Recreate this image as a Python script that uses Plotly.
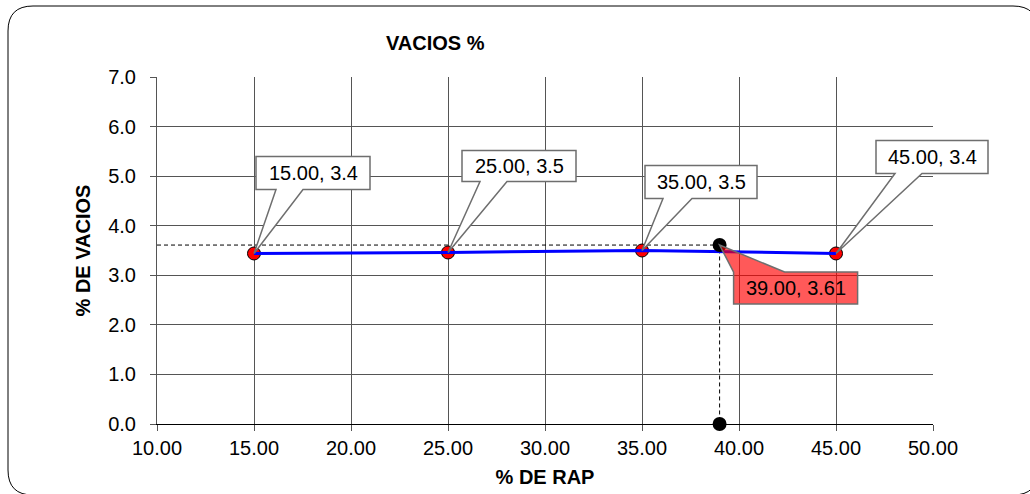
import plotly.graph_objects as go

# Air voids (%) vs. RAP content (%)
rap = [15.0, 25.0, 35.0, 45.0]
vacios = [3.44, 3.46, 3.50, 3.44]

# Design point
opt_rap = 39.0
opt_vacios = 3.61

x_ticks = [10, 15, 20, 25, 30, 35, 40, 45, 50]
y_ticks = [0, 1, 2, 3, 4, 5, 6, 7]

FONT = "Liberation Sans, Arial, sans-serif"
GRID = "#555555"

# Margins in pixels (plot area geometry)
ML, MR, MT, MB = 157, 97, 77, 70
W, H = 1030, 494

X_RANGE = [x_ticks[0], x_ticks[-1]]
Y_RANGE = [y_ticks[0], y_ticks[-1]]


def to_paper_x(v):
    return (v - X_RANGE[0]) / (X_RANGE[1] - X_RANGE[0])


def to_paper_y(v):
    return (v - Y_RANGE[0]) / (Y_RANGE[1] - Y_RANGE[0])


fig = go.Figure()

# Guide lines to the design point
fig.add_trace(go.Scatter(
    x=[x_ticks[0], opt_rap, opt_rap], y=[opt_vacios, opt_vacios, y_ticks[0]],
    mode="lines", line=dict(color="black", width=1, dash="4px,3px"),
    hoverinfo="skip", showlegend=False))

# Data markers
fig.add_trace(go.Scatter(
    x=rap, y=vacios, mode="markers",
    marker=dict(size=13, color="#ff0000", line=dict(color="black", width=1)),
    showlegend=False))

# Connecting line (drawn over the markers)
fig.add_trace(go.Scatter(
    x=rap, y=vacios, mode="lines",
    line=dict(color="#0000ff", width=3),
    hoverinfo="skip", showlegend=False))

# Design point and its projection on the x axis
fig.add_trace(go.Scatter(
    x=[opt_rap, opt_rap], y=[opt_vacios, 0], mode="markers",
    marker=dict(size=14, color="black"), cliponaxis=False,
    showlegend=False))


def callout_path(left, right, top, bottom, a, b, side):
    """Box + wedge pointing to (0,0); screen offsets (y down) -> pixel path (y up)."""
    if side == "bottom":
        pts = [(left, top), (right, top), (right, bottom), (b, bottom),
               (0, 0), (a, bottom), (left, bottom)]
    else:
        pts = [(a, top), (0, 0), (b, top), (right, top), (right, bottom),
               (left, bottom), (left, top)]
    return "M " + " L ".join(f"{x},{-y}" for x, y in pts) + " Z"


def add_callout(xv, yv, text, geom, side, fill):
    l, r, t, b, a, bb = geom
    fig.add_shape(type="path", xref="paper", yref="paper",
                  xsizemode="pixel", ysizemode="pixel",
                  xanchor=to_paper_x(xv), yanchor=to_paper_y(yv),
                  path=callout_path(l, r, t, b, a, bb, side),
                  fillcolor=fill, line=dict(color="#6e6e6e", width=1.5),
                  layer="above")
    fig.add_annotation(x=xv, y=yv, xref="x", yref="y",
                       text=text, showarrow=False,
                       xshift=(l + r) / 2, yshift=-(t + b) / 2,
                       font=dict(family=FONT, size=20, color="black"))


# Callout geometry (pixel offsets from the labelled point):
# left, right, top, bottom, wedge start, wedge end
callouts = [
    (2, 116, -97, -64, 22, 49),
    (14, 128, -102, -71, 32, 59),
    (3, 115, -85, -52, 21, 50),
    (40, 152, -113, -80, 59, 86),
]

for xv, yv, geom in zip(rap, vacios, callouts):
    add_callout(xv, yv, f"{xv:.2f}, {yv:.1f}", geom, "bottom", "white")

add_callout(opt_rap, opt_vacios, f"{opt_rap:.2f}, {opt_vacios:.2f}",
            (14, 138, 27, 59, 14, 65), "top", "rgba(255,0,0,0.65)")

# Rounded chart frame
fl, fr, ft, fb, rad = 8 - ML, 1038 - ML, (H - MB) - 6, (H - MB) - 495, 25
frame = (f"M {fl},{ft - rad} Q {fl},{ft} {fl + rad},{ft} "
         f"L {fr - rad},{ft} Q {fr},{ft} {fr},{ft - rad} "
         f"L {fr},{fb + rad} Q {fr},{fb} {fr - rad},{fb} "
         f"L {fl + rad},{fb} Q {fl},{fb} {fl},{fb + rad} Z")
fig.add_shape(type="path", xref="paper", yref="paper",
              xsizemode="pixel", ysizemode="pixel", xanchor=0, yanchor=0,
              path=frame, line=dict(color="black", width=1), layer="below")

# Chart title
fig.add_annotation(text="<b>VACIOS %</b>", xref="paper", yref="paper",
                   x=(435 - ML) / (W - ML - MR), y=((H - MB) - 43) / (H - MT - MB),
                   xanchor="center", yanchor="middle", showarrow=False,
                   font=dict(family=FONT, size=20, color="black"))

fig.update_xaxes(
    range=X_RANGE, tickvals=x_ticks, tickformat=".2f",
    showgrid=True, gridcolor=GRID, gridwidth=1,
    showline=True, linecolor="black", linewidth=1,
    ticks="outside", ticklen=6, tickcolor=GRID, zeroline=False,
    tickfont=dict(family=FONT, size=20, color="black"),
    title=dict(text="<b>% DE RAP</b>", standoff=11,
               font=dict(family=FONT, size=20, color="black")))

fig.update_yaxes(
    range=Y_RANGE, tickvals=y_ticks, tickformat=".1f",
    showgrid=True, gridcolor=GRID, gridwidth=1,
    showline=True, linecolor=GRID, linewidth=1,
    ticks="outside", ticklen=6, tickcolor=GRID, zeroline=False,
    ticklabelstandoff=10,
    tickfont=dict(family=FONT, size=20, color="black"),
    title=dict(text="<b>% DE VACIOS</b>", standoff=12,
               font=dict(family=FONT, size=20, color="black")))

fig.update_layout(
    width=W, height=H,
    margin=dict(l=ML, r=MR, t=MT, b=MB, autoexpand=False),
    paper_bgcolor="white", plot_bgcolor="white",
    showlegend=False,
)

fig.write_html("out.html")
